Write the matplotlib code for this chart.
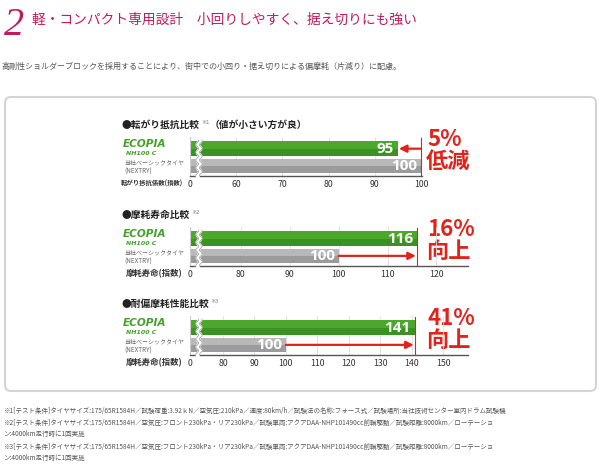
import numpy as np
import matplotlib
matplotlib.use('Agg')
import matplotlib.pyplot as plt
from matplotlib.patches import FancyBboxPatch

plt.rcParams['font.family'] = ['Noto Sans CJK JP', 'DejaVu Sans']

W, H = 600, 465
PINK = '#c4195a'
RED = '#e0231b'
GREEN = '#4ca82c'
GREEN_D = '#3b9222'
GRAY = '#b8b8b8'
GRAY_D = '#9b9b9b'

# data
titles = ['●転がり抵抗比較', '●摩耗寿命比較', '●耐偏摩耗性能比較']
notes = ['※1', '※2', '※3']
title_extra = ['（値が小さい方が良）', '', '']
ecopia = [95, 116, 141]
nextry = [100, 100, 100]
x_names = ['転がり抵抗係数(指数)', '摩耗寿命(指数)', '摩耗寿命(指数)']
ticks = [[60, 70, 80, 90, 100],
         [80, 90, 100, 110, 120],
         [80, 90, 100, 110, 120, 130, 140, 150]]
badge_num = ['5%', '16%', '41%']
badge_word = ['低減', '向上', '向上']

# layout (pixels)
axis_start = [50, 69.6, 69.5]     # value drawn as "0" at the break
px_per_unit = [4.62, 4.89, 3.143]
right_px = [422, 468, 468]
bottom_px = [176, 266, 355]
LEFT = 190
YLIM = (-0.59, 1.68)
AX_H = 39

fig = plt.figure(figsize=(6, 4.65), dpi=100)
bg = fig.add_axes([0, 0, 1, 1])
bg.set_xlim(0, W)
bg.set_ylim(H, 0)
bg.axis('off')

# header
bg.text(4, 35, '2', fontsize=29, color=PINK, style='italic',
        family='Liberation Serif', va='baseline')
bg.text(32, 20, '軽・コンパクト専用設計　小回りしやすく、据え切りにも強い',
        fontsize=9.9, color=PINK, va='center')
bg.text(2, 66, '高剛性ショルダーブロックを採用することにより、街中での小回り・据え切りによる偏摩耗（片減り）に配慮。',
        fontsize=5.8, color='#555555', va='center')

box = FancyBboxPatch((5, 97), 591, 294, boxstyle='round,pad=0,rounding_size=6',
                     fc='white', ec='#d4d4d4', lw=1.5)
bg.add_patch(box)

fig.canvas.draw()
renderer = fig.canvas.get_renderer()
inv = bg.transData.inverted()

for i in range(3):
    b = bottom_px[i]
    x0 = axis_start[i]
    x1 = x0 + (right_px[i] - LEFT) / px_per_unit[i]
    ax = fig.add_axes([LEFT / W, 1 - b / H, (right_px[i] - LEFT) / W, AX_H / H])
    ax.set_xlim(x0, x1)
    ax.set_ylim(*YLIM)
    ax.set_facecolor('none')
    for s in ['top', 'right']:
        ax.spines[s].set_visible(False)
    ax.spines['left'].set_color('#cccccc')
    ax.spines['left'].set_linewidth(0.8)
    ax.spines['bottom'].set_color('#555555')
    ax.spines['bottom'].set_linewidth(1)
    ax.set_yticks([])
    ax.set_xticks([x0] + ticks[i])
    ax.set_xticklabels(['0'] + [str(t) for t in ticks[i]], fontsize=6.3, color='#333333')
    ax.tick_params(axis='x', length=0, pad=3)
    ax.grid(axis='x', color='#dddddd', lw=0.6)
    ax.set_axisbelow(True)

    # bars
    ax.barh(1, ecopia[i] - x0, left=x0, height=0.88, color=GREEN, zorder=2)
    ax.barh(0.78, ecopia[i] - x0, left=x0, height=0.44, color=GREEN_D, zorder=2)
    ax.barh(0, nextry[i] - x0, left=x0, height=0.82, color=GRAY, zorder=2)
    ax.barh(-0.2, nextry[i] - x0, left=x0, height=0.41, color=GRAY_D, zorder=2)

    off = 4 / px_per_unit[i]
    ax.text(ecopia[i] - off, 1, str(ecopia[i]), color='white', fontsize=11,
            fontweight='bold', ha='right', va='center', family='Open Sans', zorder=4)
    ax.text(nextry[i] - off, 0, str(nextry[i]), color='white', fontsize=11,
            fontweight='bold', ha='right', va='center', family='Open Sans', zorder=4)

    # axis break
    bx = x0 + 9 / px_per_unit[i]
    yy = np.linspace(YLIM[0], 1.5, 60)
    wig = 1.4 / px_per_unit[i] * np.sin(yy * 14)
    ax.plot(bx + wig, yy, color='white', lw=3, zorder=5, clip_on=False)
    ax.plot(bx + wig - 1.8 / px_per_unit[i], yy, color='#999999', lw=0.5, zorder=5, clip_on=False)
    ax.plot(bx + wig + 1.8 / px_per_unit[i], yy, color='#999999', lw=0.5, zorder=5, clip_on=False)

    # arrows
    if ecopia[i] < nextry[i]:
        ref, ya = nextry[i], 1
        ax.annotate('', xy=(ecopia[i] + 1 / px_per_unit[i], ya), xytext=(ref, ya),
                    arrowprops=dict(arrowstyle='-|>', color=RED, lw=1.6,
                                    mutation_scale=11, shrinkA=0, shrinkB=0), zorder=6)
    else:
        ref, ya = ecopia[i], 0
        ax.annotate('', xy=(ecopia[i] - 1 / px_per_unit[i], ya), xytext=(nextry[i], ya),
                    arrowprops=dict(arrowstyle='-|>', color=RED, lw=1.6,
                                    mutation_scale=11, shrinkA=0, shrinkB=0), zorder=6)
    ax.plot([ref, ref], [YLIM[0], 1.62], color=RED, lw=0.8, zorder=6, clip_on=False)

    # badge
    bg.text(427, b - 37, badge_num[i], fontsize=16, fontweight='bold', color=RED,
            va='center', ha='left')
    bg.text(426, b - 15, badge_word[i], fontsize=16, fontweight='bold', color=RED,
            va='center', ha='left')

    # left labels
    bg.text(123, b - 32.5, 'ECOPIA', fontsize=7.6, fontweight='bold', style='italic',
            color='#43a12a', va='center', family='DejaVu Sans')
    bg.text(126, b - 23, 'NH100 C', fontsize=4.5, fontweight='bold', style='italic',
            color='#43a12a', va='center', family='DejaVu Sans')
    bg.text(124, b - 13, '当社ベーシックタイヤ', fontsize=4.3, color='#666666', va='center')
    bg.text(124, b - 4, '(NEXTRY)', fontsize=4.6, color='#666666', va='center')
    bg.text(183, b + 7.5, x_names[i], fontsize=4.6 if i == 0 else 6, fontweight='bold',
            color='#333333', va='center', ha='right')

    # title
    t = bg.text(122, b - 51, titles[i], fontsize=7, fontweight='bold', color='#222222',
                va='center')
    ext = t.get_window_extent(renderer)
    xr = inv.transform((ext.x1, ext.y1))[0]
    n = bg.text(xr + 1, b - 54, notes[i], fontsize=3.8, color='#777777', va='center')
    ext2 = n.get_window_extent(renderer)
    xr2 = inv.transform((ext2.x1, ext2.y1))[0]
    if title_extra[i]:
        bg.text(xr2, b - 51, title_extra[i], fontsize=7, fontweight='bold',
                color='#222222', va='center')

# footnotes
foot = [
    '※1[テスト条件]タイヤサイズ:175/65R1584H／試験荷重:3.92ｋN／空気圧:210kPa／速度:80km/h／試験法の名称:フォース式／試験場所:当社技術センター室内ドラム試験機',
    '※2[テスト条件]タイヤサイズ:175/65R1584H／空気圧:フロント230kPa・リア230kPa／試験車両:アクアDAA-NHP101490cc前輪駆動／試験距離:8000km／ローテーショ',
    'ン:4000km走行時に1回実施',
    '※3[テスト条件]タイヤサイズ:175/65R1584H／空気圧:フロント230kPa・リア230kPa／試験車両:アクアDAA-NHP101490cc前輪駆動／試験距離:8000km／ローテーショ',
    'ン:4000km走行時に1回実施',
]
foot_y = [411, 423, 434, 447, 458]
for s, y in zip(foot, foot_y):
    bg.text(3, y, s, fontsize=4.7, color='#555555', va='center')

fig.savefig('out.png', dpi=100)
